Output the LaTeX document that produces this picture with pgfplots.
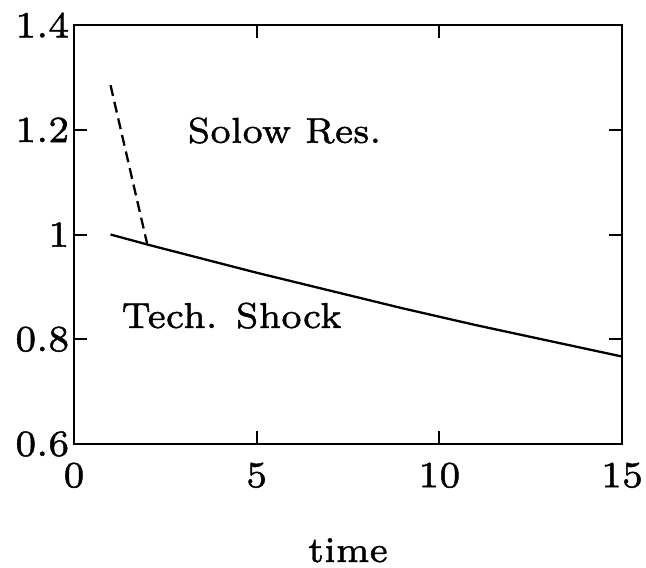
\documentclass[border=0pt]{standalone}
\usepackage{fontspec}
\setmainfont{lmroman7-regular.otf}[FakeBold=1.2]
\usepackage{pgfplots}
\pgfplotsset{compat=1.18}
\usetikzlibrary{calc}
\begin{document}
\begin{tikzpicture}
\begin{axis}[
  scale only axis,
  width=274pt, height=209.5pt,
  xmin=0, xmax=15, ymin=0.6, ymax=1.4,
  xtick={0,5,10,15},
  ytick={0.6,0.8,1,1.2,1.4},
  tick align=inside,
  major tick length=6.7pt,
  axis line style={line width=1.2pt},
  every tick/.style={line width=1pt, black},
  /pgf/number format/assume math mode=true,
  tick label style={font=\fontsize{18.5}{22}\selectfont},
  xticklabel style={yshift=-5.8pt},
  yticklabel style={xshift=1.2pt},
  xlabel={time},
  xlabel style={font=\fontsize{18}{22}\selectfont, at={(axis description cs:0.5,0)}, anchor=base, yshift=-59pt},
  clip=false,
]
\coordinate (sw) at (rel axis cs:0,0);
\coordinate (ne) at (rel axis cs:1,1);
\addplot[black, line width=1.15pt] coordinates {
(1,1.000) (2,0.981) (3,0.963) (4,0.945) (5,0.927) (6,0.910) (7,0.893) (8,0.876)
(9,0.859) (10,0.843) (11,0.827) (12,0.812) (13,0.797) (14,0.782) (15,0.767)};
\addplot[black, line width=1.15pt, dash pattern=on 5.5pt off 3pt] coordinates {
(1,1.285) (2,0.983)};
\node[font=\fontsize{18}{22}\selectfont, anchor=base west, inner sep=0pt] at (axis cs:3.1,1.175) {Solow Res.};
\node[font=\fontsize{18}{22}\selectfont, anchor=base west, inner sep=0pt] at (axis cs:1.29,0.8215) {Tech. Shock};
\end{axis}
\pgfresetboundingbox
\path[use as bounding box] ($(sw)+(-37pt,-61.5pt)$) rectangle ($(ne)+(12pt,12.5pt)$);
\end{tikzpicture}
\end{document}
